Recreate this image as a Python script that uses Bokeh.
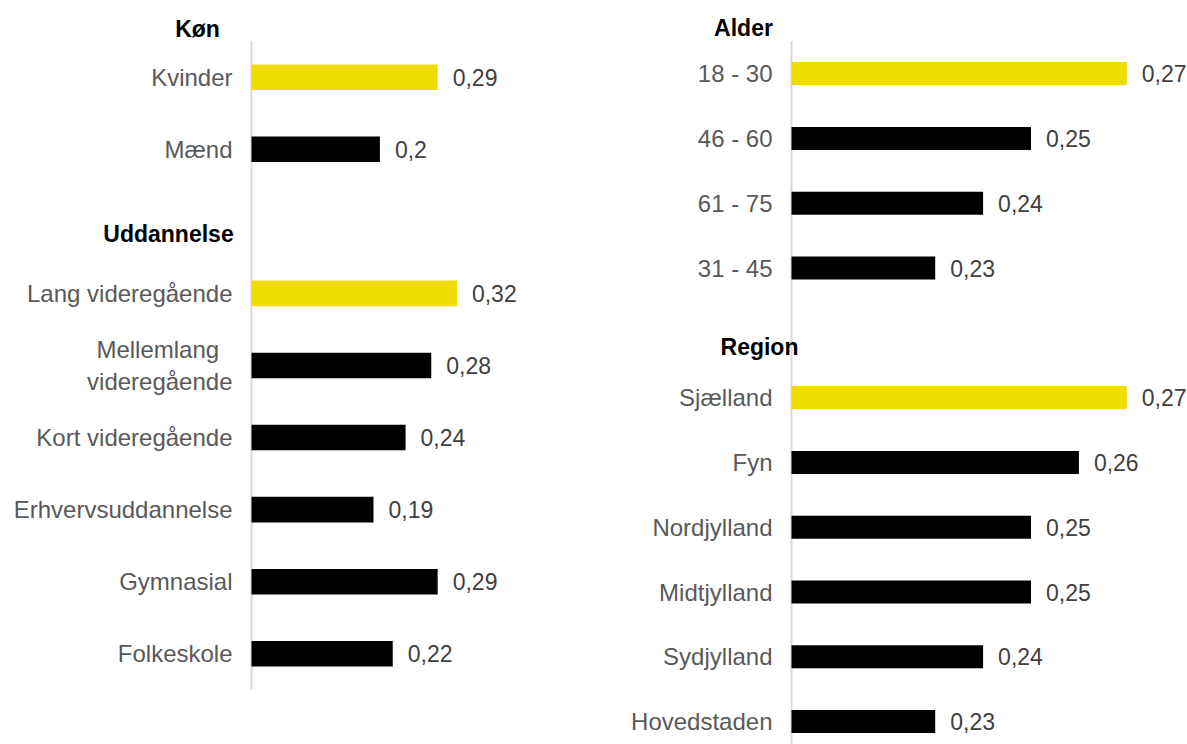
from bokeh.plotting import figure
from bokeh.layouts import row
from bokeh.models import Range1d, ColumnDataSource
from bokeh.core.properties import value
from bokeh.embed import file_html
from bokeh.resources import INLINE

# ---- data ----
koen_header = "Køn"
koen_labels = ["Kvinder", "Mænd"]
koen_values = [0.29, 0.20]

udd_header = "Uddannelse"
udd_labels = ["Lang videregående", "Mellemlang\u00a0\u00a0\nvideregående", "Kort videregående",
              "Erhvervsuddannelse", "Gymnasial", "Folkeskole"]
udd_values = [0.32, 0.28, 0.24, 0.19, 0.29, 0.22]

alder_header = "Alder"
alder_labels = ["18 - 30", "46 - 60", "61 - 75", "31 - 45"]
alder_values = [0.27, 0.25, 0.24, 0.23]

region_header = "Region"
region_labels = ["Sjælland", "Fyn", "Nordjylland", "Midtjylland", "Sydjylland", "Hovedstaden"]
region_values = [0.27, 0.26, 0.25, 0.25, 0.24, 0.23]

YELLOW = "#F0DC00"
BLACK = "#000000"
FONT = "Liberation Sans"
H = 744


def fmt(v):
    return ("%g" % v).replace(".", ",")


def panel(groups, width, axis_px, x_start, px_per_unit, first_px, px_per_slot,
          header_px):
    # layout helpers (pixel -> data) for placing the frame and headers
    x_min = x_start - axis_px / px_per_unit
    x_max = x_start + (width - axis_px) / px_per_unit
    y_top = -first_px / px_per_slot
    y_bot = y_top + H / px_per_slot

    ys, labels, vals, colors, hdr_slots = [], [], [], [], []
    slot = 0
    for gi, (hdr, labs, vs) in enumerate(groups):
        if gi > 0:
            hdr_slots.append(slot)
            slot += 1  # blank slot before a new group
        for i, (l, v) in enumerate(zip(labs, vs)):
            ys.append(slot)
            labels.append(l)
            vals.append(v)
            colors.append(YELLOW if i == 0 else BLACK)
            slot += 1

    p = figure(width=width, height=H, output_backend="svg", toolbar_location=None,
               x_range=Range1d(x_min, x_max), y_range=Range1d(y_bot, y_top),
               min_border=0)
    p.outline_line_color = None
    p.grid.visible = False
    p.axis.visible = False
    p.background_fill_color = None
    p.border_fill_color = None

    # category axis line
    p.segment(x0=[x_start], x1=[x_start], y0=[-0.5], y1=[slot - 0.5],
              line_color="#D9D9D9", line_width=2)

    src = ColumnDataSource(dict(y=ys, v=vals, c=colors, lab=labels,
                                t=[fmt(v) for v in vals],
                                x0=[x_start] * len(ys)))
    p.hbar(y="y", left="x0", right="v", height=0.355, fill_color="c",
           line_color=None, source=src)
    # value labels
    p.text(x="v", y="y", text="t", source=src, x_offset=15, text_baseline="middle",
           text_align="left", text_font=value(FONT), text_font_size="23px",
           text_color="#404040")
    # category labels
    p.text(x="x0", y="y", text="lab", source=src, x_offset=-19,
           text_baseline="middle", text_align="right", text_font=value(FONT),
           text_font_size="24px", text_color="#595959", text_line_height=1.17)

    # group headers
    hx = [x_min + px / px_per_unit for px, _ in header_px]
    hy = [y_top + py / px_per_slot for _, py in header_px]
    p.text(x=hx, y=hy, text=[g[0] for g in groups], text_align="center",
           text_baseline="middle", text_font=value(FONT), text_font_size="23px",
           text_font_style="bold", text_color="#000000")
    return p


left = panel([(koen_header, koen_labels, koen_values),
              (udd_header, udd_labels, udd_values)],
             width=560, axis_px=251, x_start=0.0, px_per_unit=642,
             first_px=76.7, px_per_slot=72.07,
             header_px=[(197, 28), (168, 233)])

right = panel([(alder_header, alder_labels, alder_values),
               (region_header, region_labels, region_values)],
              width=627, axis_px=231, x_start=0.2, px_per_unit=4790,
              first_px=73.1, px_per_slot=64.8,
              header_px=[(183, 27), (199, 346)])

layout = row(left, right, spacing=0)
open("out.html", "w").write(file_html(layout, INLINE))
